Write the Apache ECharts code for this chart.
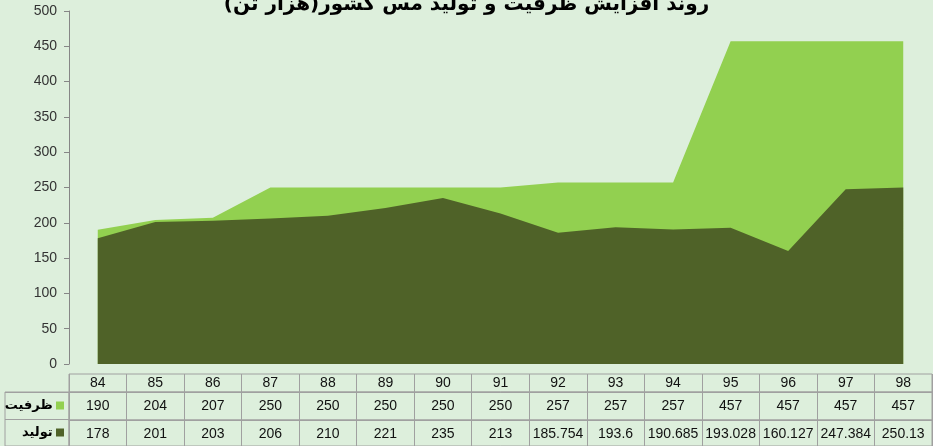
<!DOCTYPE html>
<html>
<head>
<meta charset="utf-8">
<script src="https://cdn.jsdelivr.net/npm/echarts@6/dist/echarts.min.js"></script>
<style>
  html, body { margin: 0; padding: 0; background: #DDEFDC; }
  #chart { width: 933px; height: 446px; }
</style>
</head>
<body>
<div id="chart"></div>
<script>
const years = ['84', '85', '86', '87', '88', '89', '90', '91', '92', '93', '94', '95', '96', '97', '98'];
const capacity = [190, 204, 207, 250, 250, 250, 250, 250, 257, 257, 257, 457, 457, 457, 457];
const production = [178, 201, 203, 206, 210, 221, 235, 213, 185.754, 193.6, 190.685, 193.028, 160.127, 247.384, 250.13];
const rowNames = ['ظرفیت', 'تولید'];
const titleText = 'روند افزایش ظرفیت و تولید مس کشور(هزار تن)';

const capColor = '#92D050';
const prodColor = '#4F6228';
const lineGray = '#A0A0A0';
const numFont = 'Liberation Sans';

const chart = echarts.init(document.getElementById('chart'));

// one row of the data table = one small grid with a category axis
const tableAxis = (gi, data, margin) => ({
    type: 'category', gridIndex: gi, data: data, position: 'top', boundaryGap: true,
    axisLine: { show: true, lineStyle: { color: lineGray } },
    axisTick: { show: false },
    axisLabel: { inside: true, margin: margin, interval: 0, color: '#111', fontFamily: numFont, fontSize: 14 },
    splitLine: { show: true, interval: 0, lineStyle: { color: lineGray, width: 1 } }
});
const hiddenY = (gi) => ({ type: 'value', gridIndex: gi, show: false });

chart.setOption({
    backgroundColor: '#DDEFDC',
    animation: false,
    title: {
        text: titleText, left: 'center', top: -10,
        textStyle: { fontFamily: 'DejaVu Sans', fontWeight: 'bold', fontSize: 20, color: '#000' }
    },
    grid: [
        { left: 69, right: 1, top: 11, height: 353 },
        { left: 69, right: 1, top: 374, height: 18, show: true, borderColor: lineGray, backgroundColor: 'transparent' },
        { left: 69, right: 1, top: 392, height: 28, show: true, borderColor: lineGray, backgroundColor: 'transparent' },
        { left: 69, right: 1, top: 420, height: 28, show: true, borderColor: lineGray, backgroundColor: 'transparent' },
        { left: 5, width: 64, top: 392, height: 56, show: true, borderColor: lineGray, backgroundColor: 'transparent' }
    ],
    xAxis: [
        { type: 'category', gridIndex: 0, data: years, boundaryGap: true, show: false },
        tableAxis(1, years, 2),
        tableAxis(2, capacity.map(String), 7),
        tableAxis(3, production.map(String), 7),
        { type: 'value', gridIndex: 4, show: false }
    ],
    yAxis: [
        {
            type: 'value', gridIndex: 0, min: 0, max: 500, interval: 50,
            axisLine: { show: true, lineStyle: { color: '#868686' } },
            axisTick: { show: true, length: 5, lineStyle: { color: '#868686' } },
            axisLabel: { color: '#333', fontFamily: numFont, fontSize: 14, margin: 12 },
            splitLine: { show: false }
        },
        hiddenY(1), hiddenY(2), hiddenY(3),
        {
            type: 'category', gridIndex: 4, data: rowNames, inverse: true, position: 'right',
            axisLine: { show: false }, axisTick: { show: false },
            axisLabel: {
                inside: true, margin: 5,
                formatter: (v, i) => '{t|' + v + '} {' + (i === 0 ? 'c' : 'p') + '|}',
                rich: {
                    t: { fontFamily: 'DejaVu Sans', fontWeight: 'bold', fontSize: 13, color: '#000' },
                    c: { width: 8, height: 8, backgroundColor: capColor },
                    p: { width: 8, height: 8, backgroundColor: prodColor }
                }
            },
            splitLine: { show: true, interval: 0, lineStyle: { color: lineGray } }
        }
    ],
    series: [
        {
            name: rowNames[0], type: 'line', xAxisIndex: 0, yAxisIndex: 0, data: capacity,
            symbol: 'none', lineStyle: { width: 0 }, areaStyle: { color: capColor, opacity: 1 }
        },
        {
            name: rowNames[1], type: 'line', xAxisIndex: 0, yAxisIndex: 0, data: production,
            symbol: 'none', lineStyle: { width: 0 }, areaStyle: { color: prodColor, opacity: 1 }
        }
    ]
});
</script>
</body>
</html>
